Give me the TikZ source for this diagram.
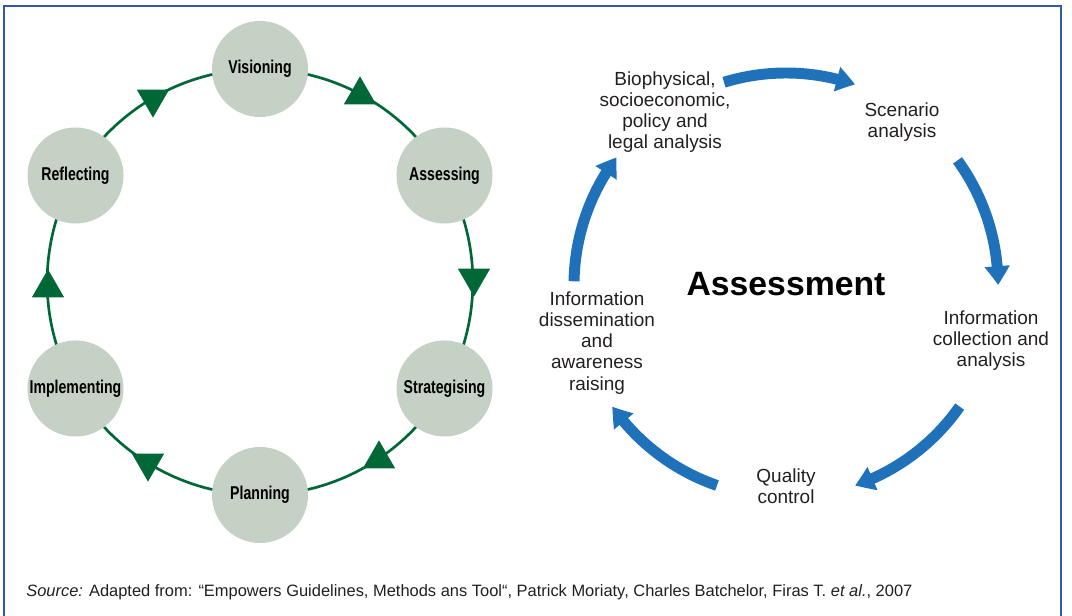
\documentclass[tikz,border=0pt]{standalone}
\usepackage{fontspec}
\setmainfont{Liberation Sans}
\newfontfamily\condfont[FakeStretch=0.76]{Liberation Sans}
\usepackage{tikz}
\usetikzlibrary{arrows.meta}
\usetikzlibrary{bending}
\usetikzlibrary{backgrounds}
\usetikzlibrary{shapes.geometric}
\definecolor{stagefill}{HTML}{C5D1C5}
\definecolor{cycgreen}{HTML}{006837}
\definecolor{flowblue}{HTML}{1F72BA}
\definecolor{frameblue}{HTML}{2E5AA8}
\definecolor{txtgray}{HTML}{231F20}

\begin{document}
\begin{tikzpicture}[x=0.025cm, y=0.025cm]
	\useasboundingbox (0,0) rectangle (1072,616);
	\draw[frameblue, line width=1.3pt] (4,-2) -- (4,610) -- (1061,610) -- (1061,-2);

	% left cycle
	\begin{scope}[every node/.style={circle, fill=stagefill, minimum size=2.4cm, inner sep=0pt,
	              font=\condfont\bfseries\fontsize{13.2}{14}\selectfont}]
		\node (vis) at (260,547) {Visioning};
		\node (ass) at (444.5,440.5) {Assessing};
		\node (str) at (444.5,227.5) {Strategising};
		\node (pla) at (260,121) {Planning};
		\node (imp) at (75.5,227.5) {Implementing};
		\node (ref) at (75.5,440.5) {Reflecting};
	\end{scope}

	\begin{scope}[on background layer,
	              every edge/.style={draw=cycgreen, line width=1.9pt, bend left=30, looseness=0.91}]
		\path (vis.center) edge (ass.center);
		\path (ass.center) edge (str.center);
		\path (str.center) edge (pla.center);
		\path (pla.center) edge (imp.center);
		\path (imp.center) edge (ref.center);
		\path (ref.center) edge (vis.center);
	\end{scope}

	\begin{scope}[every node/.style={regular polygon, regular polygon sides=3, fill=cycgreen,
	              minimum size=0.93cm, inner sep=0pt}]
		\node (t1) at (360,521) {};
		\node[shape border rotate=180] (t2) at (474,338) {};
		\node (t3) at (379,157) {};
		\node[shape border rotate=180] (t4) at (148,153) {};
		\node (t5) at (48,328) {};
		\node[shape border rotate=180] (t6) at (153,517) {};
	\end{scope}

	% right cycle
	\coordinate (hub) at (786,331);
	\node[font=\bfseries\fontsize{24}{28}\selectfont, inner sep=0pt] (asmt) at (786,332) {Assessment};
	\begin{scope}[every node/.style={align=center, text=txtgray, inner sep=0pt,
	              font=\fontsize{13.5}{15}\selectfont}]
		\node (bio) at (665,504) {Biophysical,\\socioeconomic,\\policy and\\legal analysis};
		\node (scen) at (902,494) {Scenario\\analysis};
		\node (coll) at (991,275) {Information\\collection and\\analysis};
		\node (qual) at (786,130) {Quality\\control};
		\node (diss) at (597,273) {Information\\dissemination\\and\\awareness\\raising};
	\end{scope}

	\begin{scope}[flow/.style={draw=flowblue, line width=7.8pt, -{Triangle[length=0.47cm, width=0.6cm, bend]}}]
		\draw[flow] ([shift={(107:212)}]hub) arc[start angle=107, end angle=71, radius=212];
		\draw[flow] ([shift={(36:212)}]hub) arc[start angle=36, end angle=0, radius=212];
		\draw[flow] ([shift={(-35:212)}]hub) arc[start angle=-35, end angle=-71, radius=212];
		\draw[flow] ([shift={(-109:212)}]hub) arc[start angle=-109, end angle=-145, radius=212];
		\draw[flow] ([shift={(179:212)}]hub) arc[start angle=179, end angle=143, radius=212];
	\end{scope}

	\node[anchor=west, inner sep=0pt, text=txtgray, font=\fontsize{11.7}{14}\selectfont] (src) at (26,24)
		{\textit{Source:} Adapted from: “Empowers Guidelines, Methods ans Tool“, Patrick Moriaty, Charles Batchelor, Firas T. \textit{et al.}, 2007};
\end{tikzpicture}
\end{document}
